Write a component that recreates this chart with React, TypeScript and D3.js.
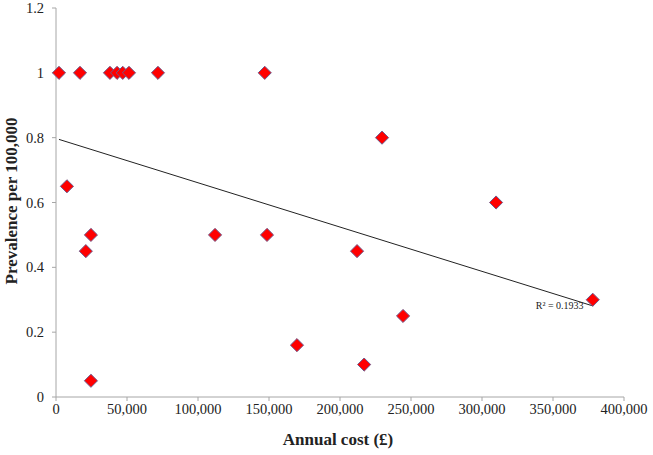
import React from 'react';
import * as d3 from 'd3';

// annual cost (£) and prevalence per 100,000
const costs = [2100, 16900, 38000, 43000, 47000, 51400, 71800, 147000, 7700, 24600, 21000, 24600, 112000, 148600, 169700, 212000, 217000, 229600, 244400, 309900, 378000];
const prevalence = [1, 1, 1, 1, 1, 1, 1, 1, 0.65, 0.5, 0.45, 0.05, 0.5, 0.5, 0.16, 0.45, 0.1, 0.8, 0.25, 0.6, 0.3];
const xTicks = [0, 50000, 100000, 150000, 200000, 250000, 300000, 350000, 400000];
const yTicks = [0, 0.2, 0.4, 0.6, 0.8, 1, 1.2];
const r2Label = 'R² = 0.1933';

const width = 653;
const height = 455;
const margin = { top: 8, right: 29, bottom: 58, left: 56 };
const font = '"Liberation Serif", "Times New Roman", serif';

const App = () => {
  const x = d3.scaleLinear().domain([0, 400000]).range([margin.left, width - margin.right]);
  const y = d3.scaleLinear().domain([0, 1.2]).range([height - margin.bottom, margin.top]);

  // least squares trendline, like the spreadsheet's linear fit
  const mx = d3.mean(costs) as number;
  const my = d3.mean(prevalence) as number;
  let sxy = 0, sxx = 0;
  costs.forEach((c, i) => {
    sxy += (c - mx) * (prevalence[i] - my);
    sxx += (c - mx) ** 2;
  });
  const slope = sxy / sxx;
  const intercept = my - slope * mx;
  const x0 = d3.min(costs) as number;
  const x1 = d3.max(costs) as number;

  const diamond = d3.symbol().type(d3.symbolDiamond2).size(110)();
  const fmt = d3.format(',');
  const axisColor = '#a6a6a6';

  return (
    <svg width={width} height={height} style={{ position: 'absolute', left: 0, top: 0 }} fontFamily={font}>
      <rect width={width} height={height} fill="#fff" />
      {/* axes */}
      <line x1={x(0)} x2={x(400000)} y1={y(0)} y2={y(0)} stroke={axisColor} />
      <line x1={x(0)} x2={x(0)} y1={y(0)} y2={y(1.2)} stroke={axisColor} />
      {xTicks.map(t => (
        <g key={t}>
          <line x1={x(t)} x2={x(t)} y1={y(0)} y2={y(0) + 4} stroke={axisColor} />
          <text x={x(t)} y={y(0) + 17} textAnchor="middle" fontSize={14.5} fill="#222">{fmt(t)}</text>
        </g>
      ))}
      {yTicks.map(t => (
        <g key={t}>
          <line x1={x(0) - 4} x2={x(0)} y1={y(t)} y2={y(t)} stroke={axisColor} />
          <text x={x(0) - 12} y={y(t) + 5} textAnchor="end" fontSize={14.5} fill="#222">{t}</text>
        </g>
      ))}
      {/* trendline */}
      <line x1={x(x0)} x2={x(x1)} y1={y(intercept + slope * x0)} y2={y(intercept + slope * x1)} stroke="#222" strokeWidth={1} />
      <text x={x(x1) - 57} y={y(intercept + slope * x1) + 3} fontSize={10} fill="#222">{r2Label}</text>
      {/* points */}
      {costs.map((c, i) => (
        <path key={i} d={diamond as string} transform={`translate(${x(c)},${y(prevalence[i])})`} fill="#ff0000" stroke="#6e5a8c" strokeWidth={1} />
      ))}
      {/* titles */}
      <text x={338} y={445} textAnchor="middle" fontSize={17} fontWeight="bold" fill="#222">Annual cost (£)</text>
      <text transform={`translate(17,201) rotate(-90)`} textAnchor="middle" fontSize={17} fontWeight="bold" fill="#222">Prevalence per 100,000</text>
    </svg>
  );
};

export default App;
